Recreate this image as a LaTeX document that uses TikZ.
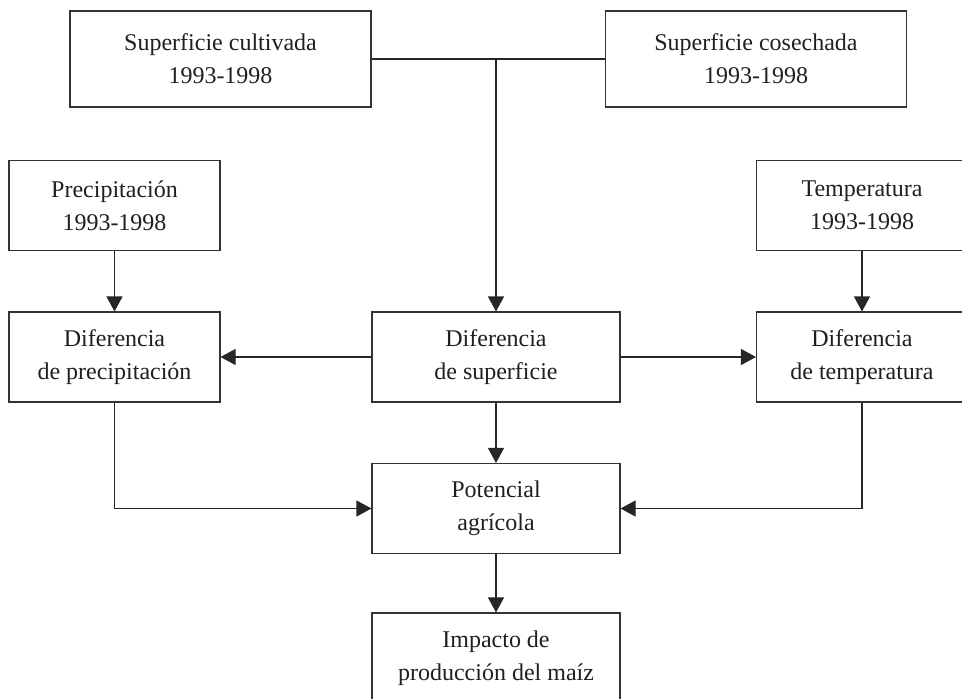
\documentclass[tikz,border=0pt]{standalone}
\usepackage{fontspec}
\setmainfont{Liberation Serif}
\usetikzlibrary{arrows.meta}
\begin{document}
\begin{tikzpicture}[x=1pt,y=-1pt,
  box/.style={draw=black!80, line width=1.1pt, inner sep=0pt, align=center,
    font=\fontsize{24}{33}\selectfont, text=black!88},
  wide/.style={box, minimum width=248pt, minimum height=90pt},
  side/.style={box, minimum width=211pt, minimum height=90pt},
  top/.style={box, minimum width=301pt, minimum height=96pt},
  link/.style={draw=black!85, line width=1.1pt},
  arr/.style={link, -{Triangle[length=15pt,width=16pt]}}]
\useasboundingbox (0,0) rectangle (962,699);
\clip (0,0) rectangle (962,699);

% source data
\node[top] (cult) at (220.5,59) {Superficie cultivada\\1993-1998};
\node[top] (cose) at (756,59) {Superficie cosechada\\1993-1998};
\node[side] (prec) at (114.5,205.5) {Precipitación\\1993-1998};
\node[side] (temp) at (862,205.5) {Temperatura\\1993-1998};

% differences
\node[side] (difp) at (114.5,357) {Diferencia\\de precipitación};
\node[wide] (difs) at (496,357) {Diferencia\\de superficie};
\node[side] (dift) at (862,357) {Diferencia\\de temperatura};

% results
\node[wide] (pot) at (496,508.5) {Potencial\\agrícola};
\node[wide] (imp) at (496,658) {Impacto de\\producción del maíz};

% connectors
\draw[link] (cult.east) -- (cose.west);
\coordinate (j) at (496,59);
\draw[arr] (j) -- (difs.north);
\draw[arr] (prec.south) -- (difp.north);
\draw[arr] (temp.south) -- (dift.north);
\draw[arr] (difs.west) -- (difp.east);
\draw[arr] (difs.east) -- (dift.west);
\draw[arr] (difs.south) -- (pot.north);
\draw[arr] (difp.south) |- (pot.west);
\draw[arr] (dift.south) |- (pot.east);
\draw[arr] (pot.south) -- (imp.north);
\end{tikzpicture}
\end{document}
